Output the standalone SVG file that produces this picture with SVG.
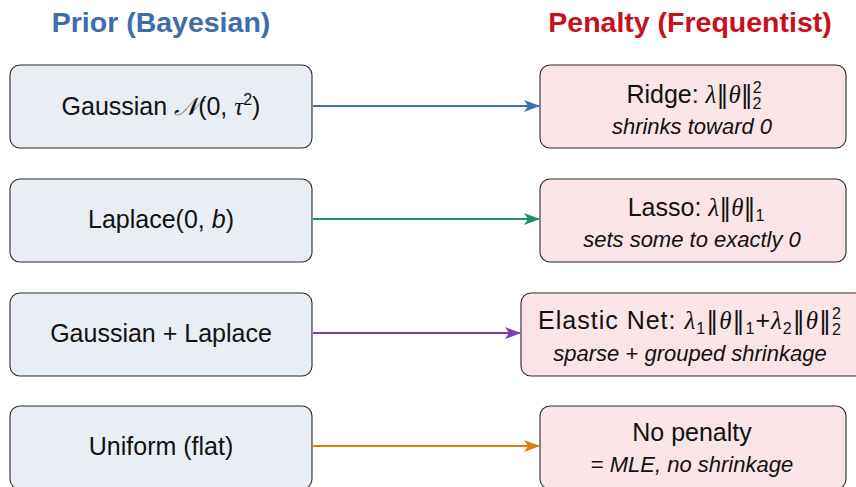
<svg xmlns="http://www.w3.org/2000/svg" width="856" height="487" viewBox="0 0 856 487">
<defs>
<style>
.prior{fill:#e9eef5;stroke:#2b2b2b;stroke-width:1.1}
.pen{fill:#f9e5e7;stroke:#2b2b2b;stroke-width:1.1}
.t{font-family:"Liberation Sans","DejaVu Sans",sans-serif;font-size:25px;fill:#111;text-anchor:middle}
.m{font-family:"Liberation Serif","DejaVu Serif",serif;font-style:italic}
.n{font-family:"DejaVu Sans",sans-serif;font-weight:normal;font-size:24px}
.i{font-style:italic}
.s{font-size:16px}
.l2{font-size:22px}
.title{font-family:"Liberation Sans","DejaVu Sans",sans-serif;font-size:28.5px;font-weight:bold;text-anchor:middle}
.c{fill:none;stroke-width:2}
</style>
<marker id="ab" viewBox="0 0 16 12" refX="15" refY="6" markerWidth="8" markerHeight="6" orient="auto" markerUnits="strokeWidth"><path d="M0,0 L16,6 L0,12 L4,6 Z" fill="#3f6eae"/></marker>
<marker id="ag" viewBox="0 0 16 12" refX="15" refY="6" markerWidth="8" markerHeight="6" orient="auto" markerUnits="strokeWidth"><path d="M0,0 L16,6 L0,12 L4,6 Z" fill="#1b9462"/></marker>
<marker id="ap" viewBox="0 0 16 12" refX="15" refY="6" markerWidth="8" markerHeight="6" orient="auto" markerUnits="strokeWidth"><path d="M0,0 L16,6 L0,12 L4,6 Z" fill="#7b3fa6"/></marker>
<marker id="ao" viewBox="0 0 16 12" refX="15" refY="6" markerWidth="8" markerHeight="6" orient="auto" markerUnits="strokeWidth"><path d="M0,0 L16,6 L0,12 L4,6 Z" fill="#d9820b"/></marker>
</defs>
<rect width="856" height="487" fill="#fff"/>
<text class="title" x="161" y="32" fill="#3d6dab">Prior (Bayesian)</text>
<text class="title" x="690" y="32" fill="#c8101b">Penalty (Frequentist)</text>

<g id="connectors">
<line class="c" x1="313" y1="106" x2="539" y2="106" stroke="#3f6eae" marker-end="url(#ab)"/>
<line class="c" x1="313" y1="219" x2="539" y2="219" stroke="#1b9462" marker-end="url(#ag)"/>
<line class="c" x1="313" y1="333" x2="520" y2="333" stroke="#7b3fa6" marker-end="url(#ap)"/>
<line class="c" x1="313" y1="446" x2="539" y2="446" stroke="#d9820b" marker-end="url(#ao)"/>
</g>

<g id="prior-gaussian">
<rect class="prior" x="10" y="65" width="302" height="83" rx="10"/>
<text class="t" x="161" y="115">Gaussian <tspan class="m">𝒩</tspan>(0, <tspan class="m">τ</tspan><tspan class="s" dy="-10">2</tspan><tspan dy="10">)</tspan></text>
</g>
<g id="prior-laplace">
<rect class="prior" x="10" y="179" width="302" height="83" rx="10"/>
<text class="t" x="161" y="228">Laplace(0, <tspan class="i">b</tspan>)</text>
</g>
<g id="prior-mix">
<rect class="prior" x="10" y="293" width="302" height="83" rx="10"/>
<text class="t" x="161" y="342">Gaussian + Laplace</text>
</g>
<g id="prior-uniform">
<rect class="prior" x="10" y="406" width="302" height="83" rx="10"/>
<text class="t" x="161" y="455">Uniform (flat)</text>
</g>

<g id="pen-ridge">
<rect class="pen" x="540" y="65" width="306" height="83" rx="10"/>
<text class="t" x="694" y="103">Ridge:  <tspan class="m">λ</tspan><tspan class="n">‖</tspan><tspan class="m">θ</tspan><tspan class="n">‖</tspan><tspan class="s" dy="-10">2</tspan><tspan class="s" dx="-9" dy="16">2</tspan></text>
<text class="t i l2" x="692" y="134">shrinks toward 0</text>
</g>
<g id="pen-lasso">
<rect class="pen" x="540" y="179" width="306" height="83" rx="10"/>
<text class="t" x="696" y="216">Lasso:  <tspan class="m">λ</tspan><tspan class="n">‖</tspan><tspan class="m">θ</tspan><tspan class="n">‖</tspan><tspan class="s" dy="5">1</tspan></text>
<text class="t i l2" x="692" y="247">sets some to exactly 0</text>
</g>
<g id="pen-elastic">
<rect class="pen" x="521" y="293" width="345" height="83" rx="10"/>
<text class="t" x="690" y="329" style="letter-spacing:1px">Elastic Net:  <tspan class="m">λ</tspan><tspan class="s" dy="5">1</tspan><tspan class="n" dy="-5">‖</tspan><tspan class="m">θ</tspan><tspan class="n">‖</tspan><tspan class="s" dy="5">1</tspan><tspan dy="-5">+</tspan><tspan class="m">λ</tspan><tspan class="s" dy="5">2</tspan><tspan class="n" dy="-5">‖</tspan><tspan class="m">θ</tspan><tspan class="n">‖</tspan><tspan class="s" dy="-10">2</tspan><tspan class="s" dx="-10" dy="16">2</tspan></text>
<text class="t l2" x="690" y="361"><tspan class="i">sparse</tspan> + <tspan class="i">grouped shrinkage</tspan></text>
</g>
<g id="pen-none">
<rect class="pen" x="540" y="406" width="306" height="83" rx="10"/>
<text class="t" x="692" y="441">No penalty</text>
<text class="t l2" x="692" y="472">= <tspan class="i">MLE, no shrinkage</tspan></text>
</g>
</svg>
